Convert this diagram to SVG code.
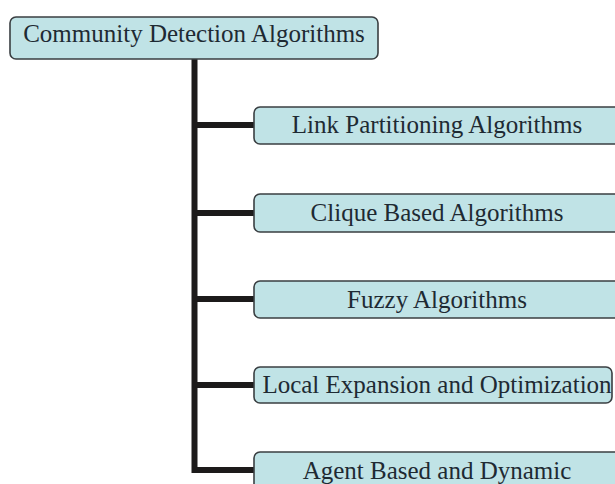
<svg xmlns="http://www.w3.org/2000/svg" width="615" height="484" viewBox="0 0 615 484">
<style>
.box{fill:#c0e3e6;stroke:#3a3f42;stroke-width:1.6}
.lbl{font-family:"Liberation Serif","Times New Roman",serif;font-size:25px;fill:#1e2a33;text-anchor:middle}
.con{stroke:#1c1a1a;stroke-width:6;fill:none}
</style>
<rect width="615" height="484" fill="#ffffff"/>
<g id="connectors">
<path class="con" d="M194.5 59 V470 H256"/>
<path class="con" d="M194.5 125 H256 M194.5 213 H256 M194.5 299 H256 M194.5 385 H256"/>
</g>
<g id="root">
<rect class="box" x="10" y="17" width="368" height="42" rx="6"/>
<text class="lbl" x="194" y="42">Community Detection Algorithms</text>
</g>
<g id="link">
<rect class="box" x="254" y="107" width="380" height="37" rx="6"/>
<text class="lbl" x="437" y="133">Link Partitioning Algorithms</text>
</g>
<g id="clique">
<rect class="box" x="254" y="194" width="380" height="38" rx="6"/>
<text class="lbl" x="437" y="221">Clique Based Algorithms</text>
</g>
<g id="fuzzy">
<rect class="box" x="254" y="281" width="380" height="37" rx="6"/>
<text class="lbl" x="437" y="308">Fuzzy Algorithms</text>
</g>
<g id="local">
<rect class="box" x="254" y="367" width="358" height="36" rx="6"/>
<text class="lbl" x="437" y="393">Local Expansion and Optimization</text>
</g>
<g id="agent">
<rect class="box" x="254" y="452" width="380" height="40" rx="6"/>
<text class="lbl" x="437" y="479">Agent Based and Dynamic</text>
</g>
</svg>
